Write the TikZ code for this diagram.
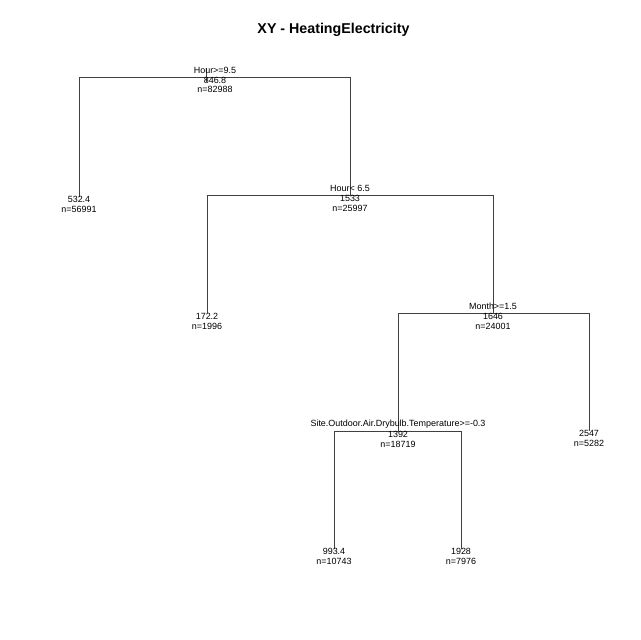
\documentclass[tikz,border=0pt]{standalone}
\usepackage{fontspec}
\setmainfont{Liberation Sans}
\begin{document}
\begin{tikzpicture}[x=1bp,y=-1bp,
  lbl/.style={font=\fontsize{9}{10}\selectfont, inner sep=0pt, anchor=center},
  ttl/.style={font=\fontsize{14.3}{16}\selectfont\bfseries, inner sep=0pt},
  br/.style={draw=black!75, line width=0.7bp}]
\useasboundingbox (0,0) rectangle (640,640);
\node[ttl] (title) at (333.5,30) {XY - HeatingElectricity};
% node points
\coordinate (r) at (215,77);
\coordinate (rl) at (79,77);
\coordinate (rr) at (350,77);
\coordinate (n2) at (79,197);
\coordinate (n3) at (350,195);
\coordinate (n3l) at (207,195);
\coordinate (n3r) at (493,195);
\coordinate (n6) at (207,313);
\coordinate (n7) at (493,313);
\coordinate (n7l) at (398,313);
\coordinate (n7r) at (589,313);
\coordinate (n14) at (398,431);
\coordinate (n15) at (589,431);
\coordinate (n14l) at (334,431);
\coordinate (n14r) at (461,431);
\coordinate (n28) at (334,549);
\coordinate (n29) at (461,549);
\coordinate (tt) at (206,68);
\coordinate (tb) at (206,82);
% branches
\draw[br] (n2) -- (rl) -- (rr) -- (n3);
\draw[br] (tt) -- (tb);
\draw[br] (n6) -- (n3l) -- (n3r) -- (n7);
\draw[br] (n14) -- (n7l) -- (n7r) -- (n15);
\draw[br] (n28) -- (n14l) -- (n14r) -- (n29);
% labels
\node[lbl] (s1) at (215,70) {Hour>=9.5};
\node[lbl] (v1) at (215,80) {846.8};
\node[lbl] (c1) at (215,89.5) {n=82988};
\node[lbl] (v2) at (79,199) {532.4};
\node[lbl] (c2) at (79,209.5) {n=56991};
\node[lbl] (s3) at (350,188) {Hour< 6.5};
\node[lbl] (v3) at (350,198) {1533};
\node[lbl] (c3) at (350,208.5) {n=25997};
\node[lbl] (v6) at (207,316) {172.2};
\node[lbl] (c6) at (207,326.5) {n=1996};
\node[lbl] (s7) at (493,306) {Month>=1.5};
\node[lbl] (v7) at (493,316) {1646};
\node[lbl] (c7) at (493,326.5) {n=24001};
\node[lbl] (s14) at (398,424) {Site.Outdoor.Air.Drybulb.Temperature>=-0.3};
\node[lbl] (v14) at (398,434) {1392};
\node[lbl] (c14) at (398,444.5) {n=18719};
\node[lbl] (v15) at (589,433) {2547};
\node[lbl] (c15) at (589,443.5) {n=5282};
\node[lbl] (v28) at (334,551) {993.4};
\node[lbl] (c28) at (334,561.5) {n=10743};
\node[lbl] (v29) at (461,551) {1928};
\node[lbl] (c29) at (461,561.5) {n=7976};
\end{tikzpicture}
\end{document}
